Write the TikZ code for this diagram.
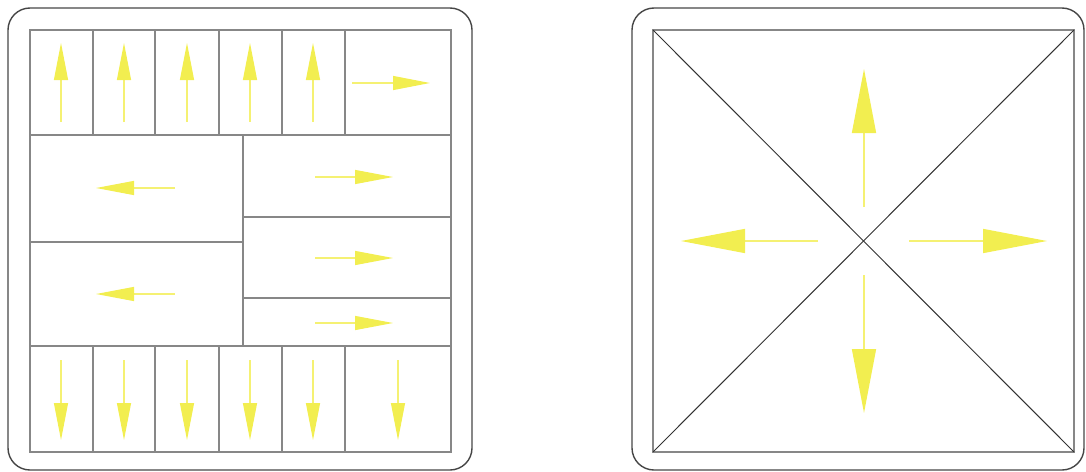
\documentclass[tikz,border=0pt]{standalone}
\usetikzlibrary{arrows.meta}
\definecolor{flowyellow}{RGB}{242,238,80}
\definecolor{cellgray}{RGB}{135,135,135}
\definecolor{framegray}{RGB}{70,70,70}
\definecolor{diaggray}{RGB}{50,50,50}
\tikzset{
  frame/.style={draw=framegray, line width=1.4pt, rounded corners=22pt},
  cell/.style={draw=cellgray, line width=1.5pt},
  diag/.style={draw=diaggray, line width=1pt},
  small flow/.style={draw=flowyellow!80, line width=1.2pt, -{Triangle[length=37pt,width=14pt,fill=flowyellow,color=flowyellow]}},
  mid flow/.style={draw=flowyellow!80, line width=1.2pt, -{Triangle[length=38pt,width=14pt,fill=flowyellow,color=flowyellow]}},
  big flow/.style={draw=flowyellow!80, line width=1.5pt, -{Triangle[length=64pt,width=24pt,fill=flowyellow,color=flowyellow]}}
}
\begin{document}
\begin{tikzpicture}[x=1pt,y=-1pt]
\useasboundingbox (0,0) rectangle (1086,471);
% ---------- left panel ----------
\draw[frame] (8,8) rectangle (472,470);
\draw[cell] (30,30) rectangle (451,452);
% top row
\draw[cell] (30,135) -- (451,135);
\foreach \x in {93,155,219,282,345} \draw[cell] (\x,30) -- (\x,135);
% bottom row
\draw[cell] (30,346) -- (451,346);
\foreach \x in {93,155,219,282,345} \draw[cell] (\x,346) -- (\x,452);
% middle
\draw[cell] (243,135) -- (243,346);
\draw[cell] (30,242) -- (243,242);
\draw[cell] (243,217) -- (451,217);
\draw[cell] (243,298) -- (451,298);
% up arrows
\foreach \x in {61,124,187,250,313} {
  \coordinate (us\x) at (\x,122); \coordinate (ut\x) at (\x,43);
  \draw[small flow] (us\x) -- (ut\x);
}
\coordinate (r0s) at (352,83); \coordinate (r0t) at (430,83);
\draw[small flow] (r0s) -- (r0t);
% down arrows
\foreach \x in {61,124,187,250,313} {
  \coordinate (ds\x) at (\x,360); \coordinate (dt\x) at (\x,440);
  \draw[small flow] (ds\x) -- (dt\x);
}
\coordinate (d6s) at (398,360); \coordinate (d6t) at (398,440);
\draw[small flow] (d6s) -- (d6t);
% left arrows
\coordinate (l1s) at (175,188); \coordinate (l1t) at (96,188);
\coordinate (l2s) at (175,294); \coordinate (l2t) at (96,294);
\draw[mid flow] (l1s) -- (l1t);
\draw[mid flow] (l2s) -- (l2t);
% right arrows
\coordinate (r1s) at (315,177); \coordinate (r1t) at (393,177);
\coordinate (r2s) at (315,258); \coordinate (r2t) at (393,258);
\coordinate (r3s) at (315,323); \coordinate (r3t) at (393,323);
\draw[mid flow] (r1s) -- (r1t);
\draw[mid flow] (r2s) -- (r2t);
\draw[mid flow] (r3s) -- (r3t);
% ---------- right panel ----------
\draw[frame] (632,8) rectangle (1084,470);
\coordinate (tl) at (653,30); \coordinate (tr) at (1074,30);
\coordinate (bl) at (653,452); \coordinate (br) at (1074,452);
\draw[cell] (tl) rectangle (br);
\draw[diag] (tl) -- (br);
\draw[diag] (tr) -- (bl);
\coordinate (c) at (864,241);
\draw[big flow] (864,207) -- (864,69);
\draw[big flow] (864,275) -- (864,413);
\draw[big flow] (818,241) -- (681,241);
\draw[big flow] (909,241) -- (1047,241);
\end{tikzpicture}
\end{document}
